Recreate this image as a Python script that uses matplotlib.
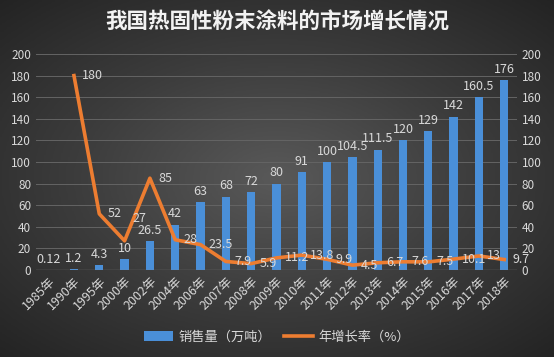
import numpy as np
import matplotlib
matplotlib.use('Agg')
import matplotlib.pyplot as plt
from matplotlib.colors import LinearSegmentedColormap

plt.rcParams['font.family'] = ['Noto Sans CJK SC', 'DejaVu Sans']

years = ['1985年', '1990年', '1995年', '2000年', '2002年', '2004年', '2006年', '2007年',
         '2008年', '2009年', '2010年', '2011年', '2012年', '2013年', '2014年', '2015年',
         '2016年', '2017年', '2018年']
sales = [0.12, 1.2, 4.3, 10, 26.5, 42, 63, 68, 72, 80, 91, 100, 104.5, 111.5, 120, 129,
         142, 160.5, 176]
growth = [np.nan, 180, 52, 27, 85, 28, 23.5, 7.9, 5.9, 11.2, 13.8, 9.9, 4.5, 6.7, 7.6,
          7.5, 10.1, 13, 9.7]
sales_lbl = ['0.12', '1.2', '4.3', '10', '26.5', '42', '63', '68', '72', '80', '91', '100',
             '104.5', '111.5', '120', '129', '142', '160.5', '176']
growth_lbl = ['', '180', '52', '27', '85', '28', '23.5', '7.9', '5.9', '11.2', '13.8', '9.9',
              '4.5', '6.7', '7.6', '7.5', '10.1', '13', '9.7']

txt = '#d9d9d9'
fig = plt.figure(figsize=(5.54, 3.57), dpi=100)

# radial dark background
bg = fig.add_axes([0, 0, 1, 1])
yy, xx = np.mgrid[-1:1:200j, -1:1:300j]
r = np.sqrt((xx / 1.05) ** 2 + (yy / 1.0) ** 2)
cm = LinearSegmentedColormap.from_list('bg', ['#595959', '#3c3c3c', '#232323'])
bg.imshow(np.clip(r / 1.4, 0, 1), cmap=cm, vmin=0, vmax=1, aspect='auto', extent=[0, 1, 0, 1])
bg.axis('off')

ax = fig.add_axes([0.065, 0.2437, 0.868, 0.605])
ax.patch.set_alpha(0)
x = np.arange(len(years))
ax.bar(x, sales, width=0.33, color='#4a8fd8', label='销售量（万吨）', zorder=2)
ax.set_xlim(-0.5, len(years) - 0.5)
ax.set_ylim(0, 200)
ax.set_yticks(range(0, 201, 20))
ax.grid(axis='y', color='#646464', linewidth=0.7, zorder=0)
for s in ax.spines.values():
    s.set_visible(False)
ax.axhline(0, color='#8a8a8a', linewidth=0.9, zorder=3)
ax.tick_params(colors=txt, labelsize=8.5, length=0)
ax.set_xticks(x)
ax.set_xticklabels(years, rotation=45, ha='right', rotation_mode='anchor', fontsize=9)
for xi, v, l in zip(x, sales, sales_lbl):
    ax.annotate(l, (xi, v), xytext=(0, 3), textcoords='offset points', ha='center',
                va='bottom', color=txt, fontsize=9, zorder=5)

ax2 = ax.twinx()
ax2.plot(x, growth, color='#ed7d31', linewidth=2.6, label='年增长率（%）', zorder=4)
ax2.set_ylim(0, 200)
ax2.set_yticks(range(0, 201, 20))
ax2.tick_params(colors=txt, labelsize=8.5, length=0)
for s in ax2.spines.values():
    s.set_visible(False)
for xi, v, l in zip(x, growth, growth_lbl):
    if l:
        dy = 16 if l == '27' else 0
        ax2.annotate(l, (xi, v), xytext=(6, dy), textcoords='offset points', ha='left',
                     va='center', color=txt, fontsize=9, zorder=5)

fig.text(0.5, 0.938, '我国热固性粉末涂料的市场增长情况', ha='center', va='center',
         color='#f2f2f2', fontsize=15.5, fontweight='bold')

h1, l1 = ax.get_legend_handles_labels()
h2, l2 = ax2.get_legend_handles_labels()
leg = fig.legend(h1 + h2, l1 + l2, loc='center', bbox_to_anchor=(0.5, 0.056), ncol=2,
                 frameon=False, fontsize=9.5, handlelength=2.2, columnspacing=1.0,
                 handletextpad=0.4)
for t in leg.get_texts():
    t.set_color(txt)

fig.savefig('out.png', dpi=100)
